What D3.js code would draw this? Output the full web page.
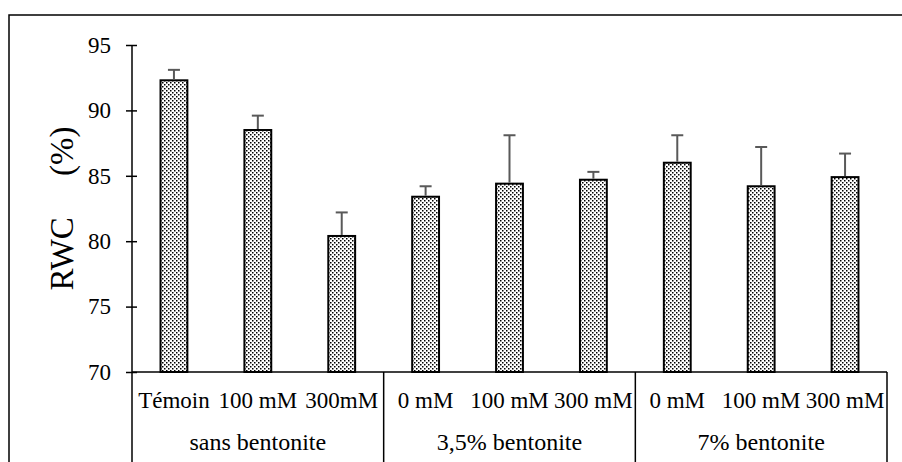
<!DOCTYPE html>
<html>
<head>
<meta charset="utf-8">
<script src="https://cdn.jsdelivr.net/npm/d3@7"></script>
<style>
  body { margin: 0; background: #fff; }
  svg { display: block; font-family: "Liberation Serif", "Times New Roman", serif; }
</style>
</head>
<body>
<div id="container"></div>
<script>
// treatments (x), grouped by bentonite level
const categories = ["Témoin", "100 mM", "300mM", "0 mM", "100 mM", "300 mM", "0 mM", "100 mM", "300 mM"];
const groups = ["sans bentonite", "3,5% bentonite", "7% bentonite"];
const rwc = [92.3, 88.5, 80.4, 83.4, 84.4, 84.7, 86.0, 84.2, 84.9];
const errs = [0.8, 1.1, 1.8, 0.8, 3.7, 0.6, 2.1, 3.0, 1.8];
const yTicks = [70, 75, 80, 85, 90, 95];

const width = 902;
const height = 462;
const padLeft = 132, padRight = 887, padTop = 45, axisY = 372;

const svg = d3.select("#container")
  .append("svg")
  .attr("width", width)
  .attr("height", height);

// dotted fill like the original
const defs = svg.append("defs");
const pat = defs.append("pattern")
  .attr("id", "dots")
  .attr("patternUnits", "userSpaceOnUse")
  .attr("width", 4)
  .attr("height", 4);
pat.append("rect").attr("width", 4).attr("height", 4).attr("fill", "#fff");
pat.append("rect").attr("x", 0).attr("y", 0).attr("width", 1.5).attr("height", 1.5).attr("fill", "#000");
pat.append("rect").attr("x", 2).attr("y", 2).attr("width", 1.5).attr("height", 1.5).attr("fill", "#000");

// outer frame (cut at the window edge)
svg.append("rect")
  .attr("x", 9).attr("y", 15)
  .attr("width", 1000).attr("height", 1000)
  .attr("fill", "none")
  .attr("stroke", "#000")
  .attr("stroke-width", 1.5);

const idx = d3.range(categories.length);

const xScale = d3.scaleBand()
  .domain(idx)
  .range([padLeft, padRight])
  .paddingInner(0.68)
  .paddingOuter(0.34);

const yScale = d3.scaleLinear()
  .domain([70, 95])
  .range([axisY, padTop]);

// bars
svg.selectAll("rect.bar")
  .data(idx)
  .enter()
  .append("rect")
  .attr("class", "bar")
  .attr("x", i => xScale(i))
  .attr("y", i => yScale(rwc[i]))
  .attr("width", xScale.bandwidth())
  .attr("height", i => yScale(70) - yScale(rwc[i]))
  .attr("fill", "url(#dots)")
  .attr("stroke", "#000")
  .attr("stroke-width", 2);

// error bars (upper only)
const eb = svg.selectAll("g.err")
  .data(idx)
  .enter()
  .append("g")
  .attr("class", "err")
  .attr("stroke", "#595959")
  .attr("stroke-width", 2);

eb.append("line")
  .attr("x1", i => xScale(i) + xScale.bandwidth() / 2)
  .attr("x2", i => xScale(i) + xScale.bandwidth() / 2)
  .attr("y1", i => yScale(rwc[i]) - 1)
  .attr("y2", i => yScale(rwc[i] + errs[i]));

eb.append("line")
  .attr("x1", i => xScale(i) + xScale.bandwidth() / 2 - 6)
  .attr("x2", i => xScale(i) + xScale.bandwidth() / 2 + 6)
  .attr("y1", i => yScale(rwc[i] + errs[i]))
  .attr("y2", i => yScale(rwc[i] + errs[i]));

// y axis
const yAxis = d3.axisLeft(yScale)
  .tickValues(yTicks)
  .tickSize(6)
  .tickPadding(15);

const yG = svg.append("g")
  .attr("transform", `translate(${padLeft},0)`)
  .call(yAxis);
yG.select(".domain").remove();
yG.selectAll(".tick line")
  .attr("x1", 5)
  .attr("x2", -6)
  .attr("stroke", "#000")
  .attr("stroke-width", 1.5);
yG.selectAll(".tick text")
  .attr("font-size", 23)
  .attr("font-family", "Liberation Serif")
  .attr("fill", "#000");

svg.append("line")
  .attr("x1", padLeft).attr("x2", padLeft)
  .attr("y1", yScale(95)).attr("y2", height)
  .attr("stroke", "#000").attr("stroke-width", 1.5);

// x axis line and group separators
svg.append("line")
  .attr("x1", padLeft).attr("x2", padRight)
  .attr("y1", axisY).attr("y2", axisY)
  .attr("stroke", "#000").attr("stroke-width", 1.5);

const step = xScale.step();
[3, 6, 9].forEach(k => {
  const x = padLeft + k * step;
  svg.append("line")
    .attr("x1", x).attr("x2", x)
    .attr("y1", axisY).attr("y2", height)
    .attr("stroke", "#000").attr("stroke-width", 1.5);
});

// category labels
svg.selectAll("text.cat")
  .data(idx)
  .enter()
  .append("text")
  .attr("class", "cat")
  .attr("x", i => xScale(i) + xScale.bandwidth() / 2)
  .attr("y", 408)
  .attr("text-anchor", "middle")
  .attr("font-size", 23)
  .text(i => categories[i]);

// group labels
svg.selectAll("text.grp")
  .data(groups)
  .enter()
  .append("text")
  .attr("class", "grp")
  .attr("x", (d, g) => padLeft + (g * 3 + 1.5) * step)
  .attr("y", 450)
  .attr("text-anchor", "middle")
  .attr("font-size", 24)
  .text(d => d);

// y title
svg.append("text")
  .attr("transform", `translate(73,${(padTop + axisY) / 2}) rotate(-90)`)
  .attr("text-anchor", "middle")
  .attr("font-size", 33)
  .text("RWC\u00a0\u00a0\u00a0\u00a0\u00a0(%)");
</script>
</body>
</html>
